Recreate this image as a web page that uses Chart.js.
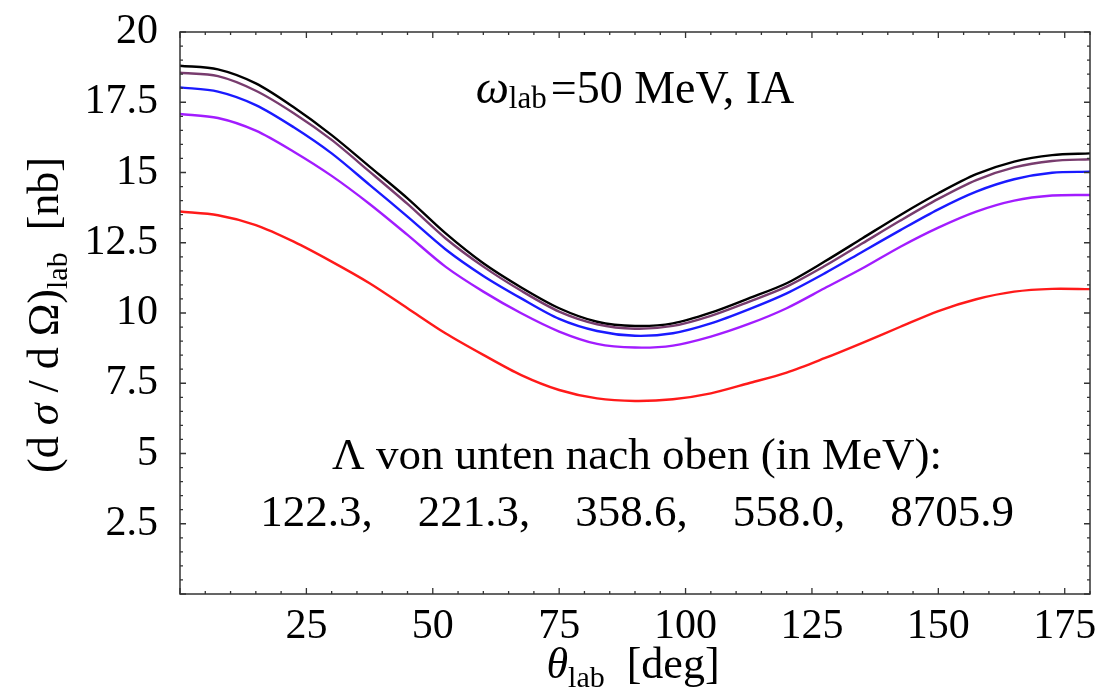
<!DOCTYPE html>
<html>
<head>
<meta charset="utf-8">
<script src="https://cdn.jsdelivr.net/npm/chart.js@4/dist/chart.umd.min.js"></script>
<style>
  html, body { margin: 0; padding: 0; background: #ffffff; }
  #wrap { width: 1102px; height: 698px; }
</style>
</head>
<body>
<div id="wrap"><canvas id="c" width="1102" height="698"></canvas></div>
<script>
// Scattering angle in the lab frame (deg)
const thetaLab = [0, 7.5, 15, 22.5, 30, 37.5, 45, 52.5, 60, 67.5, 75, 82.5, 90,
                  97.5, 105, 112.5, 120, 127.5, 135, 142.5, 150, 157.5, 165, 172.5, 180];

// (dσ/dΩ)_lab in nb, one curve per cutoff Λ (MeV)
const lambda122 = [13.61, 13.48, 13.13, 12.54, 11.83, 11.06, 10.17, 9.28, 8.51, 7.79, 7.26, 6.96, 6.87,
                   6.93, 7.14, 7.50, 7.88, 8.39, 8.94, 9.51, 10.07, 10.49, 10.76, 10.86, 10.85];
const lambda221 = [17.08, 16.94, 16.49, 15.74, 14.88, 13.88, 12.78, 11.65, 10.76, 9.99, 9.34, 8.90, 8.77,
                   8.84, 9.16, 9.61, 10.17, 10.88, 11.59, 12.36, 13.04, 13.61, 14.00, 14.18, 14.20];
const lambda359 = [18.03, 17.88, 17.40, 16.61, 15.68, 14.56, 13.43, 12.27, 11.32, 10.52, 9.79, 9.36, 9.19,
                   9.28, 9.63, 10.13, 10.70, 11.41, 12.18, 12.95, 13.69, 14.32, 14.76, 14.99, 15.03];
const lambda558 = [18.55, 18.43, 17.91, 17.11, 16.16, 15.03, 13.88, 12.66, 11.65, 10.79, 10.05, 9.60, 9.44,
                   9.54, 9.90, 10.40, 10.94, 11.67, 12.48, 13.29, 14.06, 14.73, 15.18, 15.41, 15.47];
const lambda8706 = [18.80, 18.67, 18.17, 17.32, 16.33, 15.21, 14.08, 12.84, 11.77, 10.91, 10.17, 9.69, 9.54,
                    9.63, 10.01, 10.52, 11.06, 11.83, 12.66, 13.49, 14.26, 14.94, 15.39, 15.62, 15.68];

const cutoffLabels = ['122.3', '221.3', '358.6', '558.0', '8705.9'];
const xTickStep = 25;
const yTickStep = 2.5;

const SERIF = "'Liberation Serif', 'Times New Roman', serif";

function toPoints(ys) {
  return thetaLab.map((t, i) => ({ x: t, y: ys[i] }));
}

// Draws a sequence of text runs (with optional baseline shift) as one line
function drawRuns(ctx, runs, x, y, align) {
  let total = 0;
  runs.forEach(r => { ctx.font = r.font; r.w = ctx.measureText(r.text).width + (r.gap || 0); total += r.w; });
  let cx = align === 'center' ? x - total / 2 : x;
  ctx.textBaseline = 'alphabetic';
  ctx.textAlign = 'left';
  runs.forEach(r => {
    ctx.font = r.font;
    ctx.fillText(r.text, cx, y + (r.dy || 0));
    cx += r.w;
  });
}

// Frame with inward ticks on all four sides, plus the text annotations
const framePlugin = {
  id: 'frameAndLabels',
  afterDatasetsDraw(chart) {
    const ctx = chart.ctx;
    const xs = chart.scales.x, ys = chart.scales.y;
    const a = chart.chartArea;
    ctx.save();
    ctx.strokeStyle = '#333333';
    ctx.lineWidth = 1.5;
    ctx.strokeRect(a.left, a.top, a.right - a.left, a.bottom - a.top);

    ctx.lineWidth = 1.3;
    ctx.beginPath();
    for (let v = 0; v <= 180; v += 5) {
      const px = xs.getPixelForValue(v);
      const len = (v % xTickStep === 0) ? 6 : 3;
      ctx.moveTo(px, a.bottom); ctx.lineTo(px, a.bottom - len);
      ctx.moveTo(px, a.top); ctx.lineTo(px, a.top + len);
    }
    for (let i = 0; i <= 40; i++) {
      const v = i * 0.5;
      const py = ys.getPixelForValue(v);
      const len = (i % 5 === 0) ? 6 : 3;
      ctx.moveTo(a.left, py); ctx.lineTo(a.left + len, py);
      ctx.moveTo(a.right, py); ctx.lineTo(a.right - len, py);
    }
    ctx.stroke();

    ctx.fillStyle = '#000000';
    // Plot label
    drawRuns(ctx, [
      { text: 'ω', font: `italic 47px ${SERIF}` },
      { text: 'lab', font: `31px ${SERIF}`, dy: 5, gap: 4 },
      { text: '=50 MeV, IA', font: `46px ${SERIF}` }
    ], 635, 103, 'center');

    // Cutoff list
    drawRuns(ctx, [{ text: 'Λ von unten nach oben (in MeV):', font: `45px ${SERIF}` }], 637, 469, 'center');
    drawRuns(ctx, [{ text: cutoffLabels.join(',    '), font: `45px ${SERIF}` }], 637, 526, 'center');

    // x-axis title
    drawRuns(ctx, [
      { text: 'θ', font: `italic 44px ${SERIF}` },
      { text: 'lab', font: `30px ${SERIF}`, dy: 9 },
      { text: '  [deg]', font: `44px ${SERIF}` }
    ], 633, 678, 'center');

    // y-axis title
    ctx.save();
    ctx.translate(58, 315);
    ctx.rotate(-Math.PI / 2);
    drawRuns(ctx, [
      { text: '(d ', font: `44px ${SERIF}` },
      { text: 'σ', font: `italic 44px ${SERIF}` },
      { text: ' / d Ω)', font: `44px ${SERIF}` },
      { text: 'lab', font: `30px ${SERIF}`, dy: 9 },
      { text: '  [nb]', font: `44px ${SERIF}` }
    ], 0, 0, 'center');
    ctx.restore();
    ctx.restore();
  }
};

const lineStyle = { pointRadius: 0, borderWidth: 2.4, fill: false, tension: 0.3 };

new Chart(document.getElementById('c'), {
  type: 'line',
  data: {
    datasets: [
      { label: 'Λ = ' + cutoffLabels[0] + ' MeV', data: toPoints(lambda122), borderColor: '#ff1a1a', ...lineStyle },
      { label: 'Λ = ' + cutoffLabels[1] + ' MeV', data: toPoints(lambda221), borderColor: '#a21cff', ...lineStyle },
      { label: 'Λ = ' + cutoffLabels[2] + ' MeV', data: toPoints(lambda359), borderColor: '#1a1aff', ...lineStyle },
      { label: 'Λ = ' + cutoffLabels[3] + ' MeV', data: toPoints(lambda558), borderColor: '#783c6e', ...lineStyle },
      { label: 'Λ = ' + cutoffLabels[4] + ' MeV', data: toPoints(lambda8706), borderColor: '#000000', ...lineStyle }
    ]
  },
  options: {
    responsive: false,
    animation: false,
    devicePixelRatio: 1,
    layout: { padding: { left: 0, top: 32, right: 12, bottom: 0 } },
    plugins: { legend: { display: false }, tooltip: { enabled: false } },
    scales: {
      x: {
        type: 'linear', min: 0, max: 180,
        grid: { display: false, drawTicks: false },
        border: { display: false },
        ticks: {
          stepSize: xTickStep, includeBounds: false, padding: 8, color: '#000000',
          font: { family: SERIF, size: 42 },
          callback: v => (v === 0 ? '' : String(v))
        },
        afterFit(scale) {
          scale.height = 104;
          scale.paddingLeft = 0; scale.paddingRight = 0;
        }
      },
      y: {
        min: 0, max: 20,
        grid: { display: false, drawTicks: false },
        border: { display: false },
        ticks: {
          stepSize: yTickStep, padding: 22, color: '#000000',
          font: { family: SERIF, size: 42 },
          callback: v => (v === 0 ? '' : String(v))
        },
        afterFit(scale) {
          scale.width = 180;
          scale.paddingTop = 0; scale.paddingBottom = 0;
        }
      }
    }
  },
  plugins: [framePlugin]
});
</script>
</body>
</html>
